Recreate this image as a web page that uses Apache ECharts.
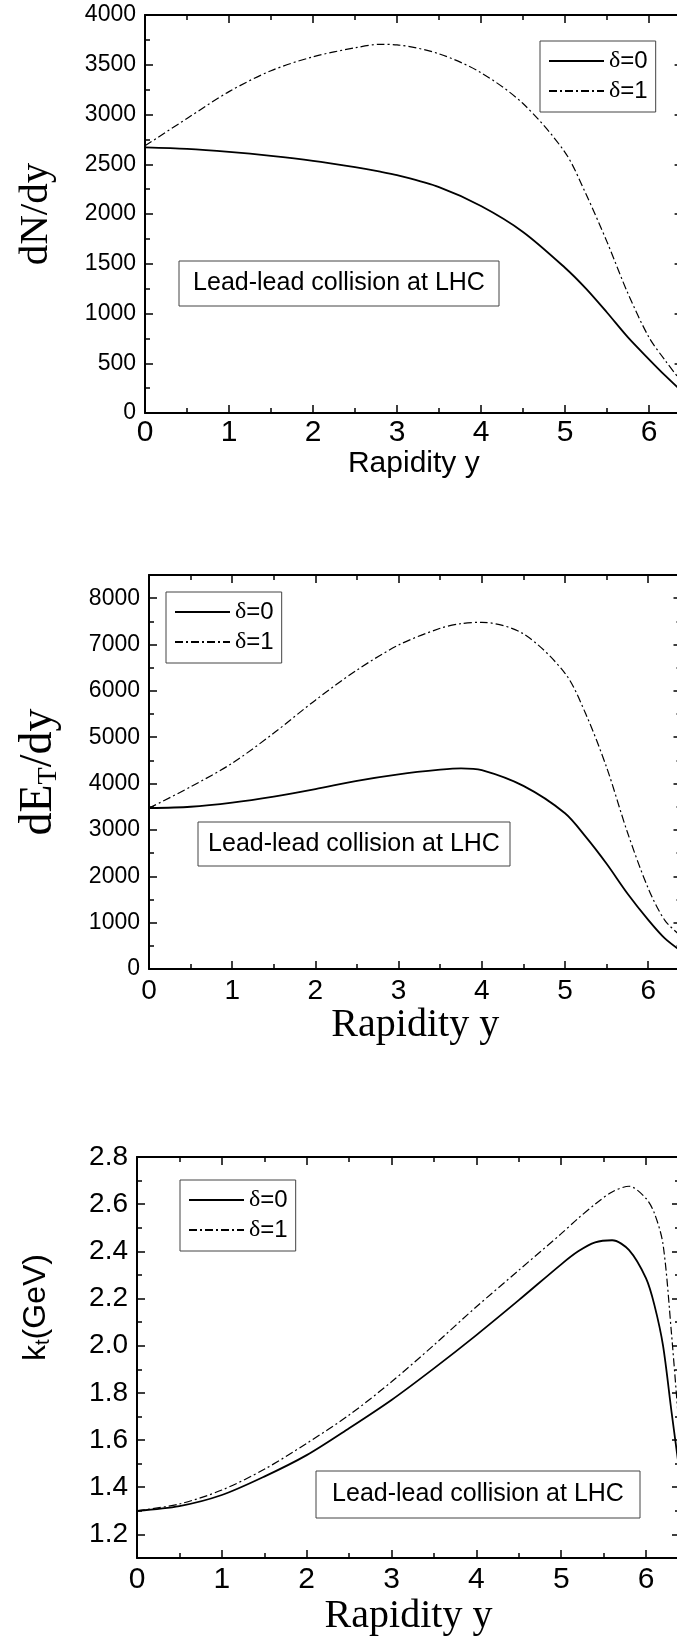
<!DOCTYPE html>
<html>
<head>
<meta charset="utf-8">
<script src="https://cdn.jsdelivr.net/npm/echarts@6/dist/echarts.min.js"></script>
<style>
  html, body { margin: 0; padding: 0; background: #fff; overflow: hidden; width: 677px; height: 1639px; }
  #main { width: 700px; height: 1639px; }
</style>
</head>
<body>
<div id="main"></div>
<script>
// rapidity axis (shared)
var X_MAX = 6.4;
var rapidityTicks = [0, 1, 2, 3, 4, 5, 6];
var rapidityMinor = [0.5, 1.5, 2.5, 3.5, 4.5, 5.5];

// panel 1 : dN/dy
var dnX = [0, 0.5, 1, 1.5, 2, 2.5, 2.8, 3, 3.5, 4, 4.5, 5, 5.25, 5.5, 5.75, 6, 6.2, 6.4];
var dnDelta0 = [2670, 2655, 2625, 2585, 2535, 2470, 2425, 2390, 2270, 2080, 1820, 1460, 1250, 1010, 760, 540, 370, 210];
var dnDelta1 = [2685, 2960, 3230, 3440, 3580, 3670, 3705, 3700, 3610, 3420, 3110, 2620, 2200, 1720, 1200, 760, 520, 300];
var dnTicks = [0, 500, 1000, 1500, 2000, 2500, 3000, 3500, 4000];
var dnMinor = [250, 750, 1250, 1750, 2250, 2750, 3250, 3750];

// panel 2 : dE_T/dy
var etX = [0, 0.5, 1, 1.5, 2, 2.5, 3, 3.5, 3.75, 4, 4.5, 5, 5.25, 5.5, 5.75, 6, 6.2, 6.4];
var etDelta0 = [3470, 3500, 3590, 3720, 3880, 4060, 4200, 4300, 4330, 4290, 3950, 3360, 2850, 2270, 1630, 1060, 660, 380];
var etDelta1 = [3470, 3930, 4440, 5090, 5800, 6450, 6990, 7350, 7450, 7480, 7230, 6380, 5500, 4350, 2950, 1740, 1050, 700];
var etTicks = [0, 1000, 2000, 3000, 4000, 5000, 6000, 7000, 8000];
var etMinor = [500, 1500, 2500, 3500, 4500, 5500, 6500, 7500];

// panel 3 : k_t
var ktX = [0, 0.5, 1, 1.5, 2, 2.5, 3, 3.5, 4, 4.5, 5, 5.2, 5.4, 5.6, 5.8, 6, 6.1, 6.2, 6.3, 6.4];
var ktDelta0 = [1.30, 1.32, 1.367, 1.445, 1.536, 1.65, 1.77, 1.904, 2.045, 2.193, 2.345, 2.40, 2.438, 2.447, 2.405, 2.285, 2.17, 2.0, 1.72, 1.45];
var ktDelta1 = [1.30, 1.329, 1.388, 1.476, 1.586, 1.706, 1.847, 2.003, 2.165, 2.32, 2.475, 2.54, 2.60, 2.652, 2.676, 2.624, 2.56, 2.43, 2.05, 1.6];
var ktTicks = [1.2, 1.4, 1.6, 1.8, 2.0, 2.2, 2.4, 2.6, 2.8];
var ktMinor = [1.3, 1.5, 1.7, 1.9, 2.1, 2.3, 2.5, 2.7];

var legendNames = ['δ=0', 'δ=1'];
var noteText = 'Lead-lead collision at LHC';

var SANS = '"Liberation Sans", Arial, sans-serif';
var SERIF = '"Liberation Serif", "Times New Roman", serif';

var chart = echarts.init(document.getElementById('main'), null, { renderer: 'canvas' });

function pairs(xs, ys) {
  return xs.map(function (x, i) { return [x, ys[i]]; });
}

var tickLine = { color: '#000', width: 1.5 };
var plainNum = function (v) { return String(v); };

// bottom + top x axes for one grid (major + minor each)
function makeXAxes(g, lab, name) {
  var base = { gridIndex: g, type: 'value', min: 0, max: X_MAX, splitLine: { show: false } };
  return [
    Object.assign({}, base, {
      position: 'bottom',
      axisLine: { onZero: false, lineStyle: { color: '#000', width: 2 } },
      axisTick: { inside: true, length: 8, customValues: rapidityTicks, lineStyle: tickLine },
      axisLabel: { customValues: rapidityTicks, color: '#000', fontFamily: SANS, fontSize: lab.size, margin: lab.margin, formatter: plainNum },
      name: name.text, nameLocation: 'middle', nameGap: name.gap,
      nameTextStyle: { color: '#000', fontFamily: name.font, fontSize: name.size }
    }),
    Object.assign({}, base, {
      position: 'bottom',
      axisLine: { show: false, onZero: false },
      axisTick: { inside: true, length: 5, customValues: rapidityMinor, lineStyle: tickLine },
      axisLabel: { show: false }
    }),
    Object.assign({}, base, {
      position: 'top',
      axisLine: { onZero: false, lineStyle: { color: '#000', width: 2 } },
      axisTick: { inside: true, length: 8, customValues: rapidityTicks, lineStyle: tickLine },
      axisLabel: { show: false }
    }),
    Object.assign({}, base, {
      position: 'top',
      axisLine: { show: false, onZero: false },
      axisTick: { inside: true, length: 5, customValues: rapidityMinor, lineStyle: tickLine },
      axisLabel: { show: false }
    })
  ];
}

function makeYAxes(g, min, max, ticks, minor, lab, name) {
  var base = { gridIndex: g, type: 'value', min: min, max: max, splitLine: { show: false } };
  return [
    Object.assign({}, base, {
      position: 'left',
      axisLine: { onZero: false, lineStyle: { color: '#000', width: 2 } },
      axisTick: { inside: true, length: 8, customValues: ticks, lineStyle: tickLine },
      axisLabel: { customValues: ticks, color: '#000', fontFamily: SANS, fontSize: lab.size, margin: lab.margin, formatter: lab.fmt || plainNum },
      name: name.text, nameLocation: 'middle', nameRotate: 90, nameGap: name.gap,
      nameTextStyle: name.style
    }),
    Object.assign({}, base, {
      position: 'left',
      axisLine: { show: false, onZero: false },
      axisTick: { inside: true, length: 5, customValues: minor, lineStyle: tickLine },
      axisLabel: { show: false }
    }),
    Object.assign({}, base, {
      position: 'right',
      axisLine: { onZero: false, lineStyle: { color: '#000', width: 2 } },
      axisTick: { inside: true, length: 8, customValues: ticks, lineStyle: tickLine },
      axisLabel: { show: false }
    }),
    Object.assign({}, base, {
      position: 'right',
      axisLine: { show: false, onZero: false },
      axisTick: { inside: true, length: 5, customValues: minor, lineStyle: tickLine },
      axisLabel: { show: false }
    })
  ];
}

function lineSeries(g, name, xs, ys, dashed) {
  return {
    type: 'line', name: name, xAxisIndex: 4 * g, yAxisIndex: 4 * g,
    data: pairs(xs, ys), symbol: 'none', showSymbol: false, smooth: 0.3,
    color: '#000', itemStyle: { color: '#000' },
    lineStyle: dashed ? { color: '#000', width: 1.2, type: [8, 3, 2, 3] } : { color: '#000', width: 1.8 },
    silent: true
  };
}

function legendAt(left, top) {
  return {
    data: legendNames, orient: 'vertical', left: left, top: top,
    selectedMode: false, itemWidth: 55, itemHeight: 14, itemGap: 6,
    padding: [8, 8, 9, 8], borderColor: '#444', borderWidth: 1, backgroundColor: '#fff',
    itemStyle: { opacity: 0 },
    formatter: function (n) { return '{g|δ}{n|' + n.slice(1) + '}'; },
    textStyle: {
      color: '#000',
      rich: {
        g: { fontFamily: SERIF, fontSize: 24, color: '#000' },
        n: { fontFamily: SANS, fontSize: 24, color: '#000' }
      }
    }
  };
}

function noteBox(x, y, w, h) {
  return [
    { type: 'rect', z: 10, shape: { x: x, y: y, width: w, height: h },
      style: { fill: '#fff', stroke: '#444', lineWidth: 1 } },
    { type: 'text', z: 11, x: x + w / 2, y: y + h / 2,
      style: { text: noteText, font: '25px ' + SANS, fill: '#000', align: 'center', verticalAlign: 'middle' } }
  ];
}

var xAxes = []
  .concat(makeXAxes(0, { size: 30, margin: 5 }, { text: 'Rapidity y', gap: 34, font: SANS, size: 30 }))
  .concat(makeXAxes(1, { size: 28, margin: 8 }, { text: 'Rapidity y', gap: 36, font: SERIF, size: 40 }))
  .concat(makeXAxes(2, { size: 30, margin: 7 }, { text: 'Rapidity y', gap: 38, font: SERIF, size: 40 }));

var yAxes = []
  .concat(makeYAxes(0, 0, 4000, dnTicks, dnMinor, { size: 23, margin: 9 },
    { text: 'dN/dy', gap: 88, style: { color: '#000', fontFamily: SERIF, fontSize: 41 } }))
  .concat(makeYAxes(1, 0, 8500, etTicks, etMinor, { size: 23, margin: 9 },
    { text: '{m|dE}{s|T}{m|/dy}', gap: 86,
      style: { color: '#000', rich: {
        m: { fontFamily: SERIF, fontSize: 46, color: '#000', lineHeight: 48 },
        s: { fontFamily: SERIF, fontSize: 28, color: '#000', verticalAlign: 'bottom', lineHeight: 28 }
      } } }))
  .concat(makeYAxes(2, 1.1, 2.8, ktTicks, ktMinor, { size: 28, margin: 9, fmt: function (v) { return v.toFixed(1); } },
    { text: '{m|k}{s|t}{m|(GeV)}', gap: 84,
      style: { color: '#000', padding: [0, 0, 0, 100], rich: {
        m: { fontFamily: SANS, fontSize: 32, color: '#000', lineHeight: 34 },
        s: { fontFamily: SANS, fontSize: 20, color: '#000', verticalAlign: 'bottom', lineHeight: 20 }
      } } }));

var option = {
  animation: false,
  backgroundColor: '#fff',
  grid: [
    { left: 145, top: 15, width: 537.6, height: 398, outerBoundsMode: 'none', containLabel: false },
    { left: 149, top: 575, width: 532.5, height: 394, outerBoundsMode: 'none', containLabel: false },
    { left: 137, top: 1157, width: 543, height: 401, outerBoundsMode: 'none', containLabel: false }
  ],
  legend: [legendAt(540, 41), legendAt(166, 592), legendAt(180, 1180)],
  xAxis: xAxes,
  yAxis: yAxes,
  series: [
    lineSeries(0, legendNames[0], dnX, dnDelta0, false),
    lineSeries(0, legendNames[1], dnX, dnDelta1, true),
    lineSeries(1, legendNames[0], etX, etDelta0, false),
    lineSeries(1, legendNames[1], etX, etDelta1, true),
    lineSeries(2, legendNames[0], ktX, ktDelta0, false),
    lineSeries(2, legendNames[1], ktX, ktDelta1, true)
  ],
  graphic: [].concat(noteBox(179, 261, 320, 45), noteBox(198, 822, 312, 44), noteBox(316, 1471, 324, 47))
};

chart.setOption(option);
</script>
</body>
</html>
